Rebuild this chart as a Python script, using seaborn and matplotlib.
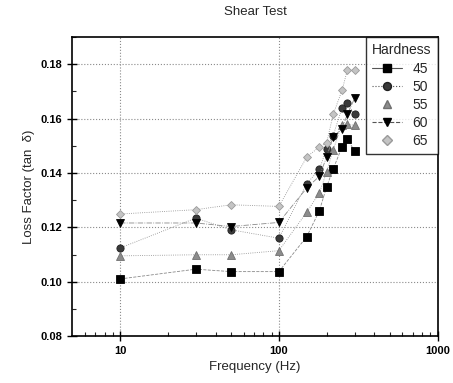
import numpy as np
import pandas as pd
import matplotlib
matplotlib.use("Agg")
import matplotlib.pyplot as plt
from matplotlib.lines import Line2D
from matplotlib.ticker import FixedLocator, NullFormatter, MultipleLocator, FormatStrFormatter
import seaborn as sns

# Frequencies (Hz) at which each compound was tested
freq = [10, 30, 50, 100, 150, 180, 200, 220, 250, 270, 300]

# Loss factor per hardness grade
h45 = [0.1010, 0.1046, 0.1037, 0.1037, 0.1166, 0.1261, 0.1349, 0.1415, 0.1496, 0.1526, 0.1480]
h50 = [0.1124, 0.1234, 0.1191, 0.1160, 0.1361, 0.1413, 0.1490, 0.1538, 0.1640, 0.1656, 0.1616]
h55 = [0.1095, 0.1099, 0.1099, 0.1114, 0.1256, 0.1327, 0.1403, 0.1486, 0.1578, 0.1580, 0.1575]
h60 = [0.1216, 0.1216, 0.1203, 0.1218, 0.1345, 0.1388, 0.1459, 0.1533, 0.1563, 0.1616, 0.1675]
h65 = [0.1249, 0.1265, 0.1283, 0.1277, 0.1459, 0.1496, 0.1511, 0.1616, 0.1704, 0.1778, 0.1778]

hardness = ["45", "50", "55", "60", "65"]
values = [h45, h50, h55, h60, h65]

df = pd.concat(
    [pd.DataFrame({"freq": freq, "loss": v, "hardness": h}) for h, v in zip(hardness, values)],
    ignore_index=True,
)

styles = {
    "45": dict(marker="s", mfc="black", mec="black", ms=5.2, ls="--", leg_ls="-"),
    "50": dict(marker="o", mfc="#3a3a3a", mec="#202020", ms=5.2, ls=":", leg_ls=":"),
    "55": dict(marker="^", mfc="#8c8c8c", mec="#707070", ms=5.2, ls=":", leg_ls="none"),
    "60": dict(marker="v", mfc="black", mec="black", ms=5.8, ls="-.", leg_ls="--"),
    "65": dict(marker="D", mfc="#c4c4c4", mec="#9a9a9a", ms=4.5, ls=":", leg_ls="none"),
}

sns.set_theme(style="white")
plt.rcParams["font.family"] = ["Liberation Sans", "DejaVu Sans"]

fig = plt.figure(figsize=(4.53, 3.83), dpi=100)
ax = fig.add_axes([0.1596, 0.1227, 0.8064, 0.7803])

for h in hardness:
    st = styles[h]
    sub = df[df["hardness"] == h]
    sns.lineplot(
        data=sub, x="freq", y="loss", ax=ax,
        color="#8a8a8a", linewidth=0.6, linestyle=st["ls"],
        marker=st["marker"], markerfacecolor=st["mfc"], markeredgecolor=st["mec"],
        markersize=st["ms"], markeredgewidth=0.6, legend=False,
    )

ax.set_xscale("log")
ax.set_xlim(5, 1000)
ax.set_ylim(0.08, 0.19)

ax.xaxis.set_major_locator(FixedLocator([10, 100, 1000]))
ax.set_xticklabels(["10", "100", "1000"])
ax.xaxis.set_minor_locator(FixedLocator(
    [6, 7, 8, 9, 20, 30, 40, 50, 60, 70, 80, 90, 200, 300, 400, 500, 600, 700, 800, 900]))
ax.xaxis.set_minor_formatter(NullFormatter())
ax.yaxis.set_major_locator(MultipleLocator(0.02))
ax.yaxis.set_minor_locator(MultipleLocator(0.01))
ax.yaxis.set_major_formatter(FormatStrFormatter("%.2f"))

ax.tick_params(which="major", direction="inout", length=7, width=1, colors="black",
               labelsize=8, bottom=True, left=True)
ax.tick_params(which="minor", direction="in", length=3, width=0.8, bottom=True, left=True)
for lbl in ax.get_xticklabels() + ax.get_yticklabels():
    lbl.set_fontweight("bold")

ax.grid(True, which="major", color="#8a8a8a", linestyle=":", linewidth=0.8)
for side in ["left", "bottom", "top", "right"]:
    ax.spines[side].set_color("black")
    ax.spines[side].set_linewidth(1.2)

ax.set_xlabel("Frequency (Hz)", fontsize=9.5)
ax.set_ylabel("Loss Factor (tan  δ)", fontsize=9.5)
ax.set_title("Shear Test", fontsize=9.5, pad=16)

handles = []
for h in hardness:
    st = styles[h]
    handles.append(Line2D([0], [0], color="#555555", linewidth=0.8, linestyle=st["leg_ls"],
                          marker=st["marker"], markerfacecolor=st["mfc"],
                          markeredgecolor=st["mec"], markersize=st["ms"] + 0.5))
leg = ax.legend(handles, hardness, title="Hardness", loc="upper right",
                fontsize=10, title_fontsize=10, frameon=True, fancybox=False,
                edgecolor="black", borderaxespad=0.0, handlelength=2.2,
                handletextpad=0.7, labelspacing=0.3, borderpad=0.45)
leg._legend_box.align = "left"
leg.get_frame().set_linewidth(1.0)

fig.savefig("out.png", dpi=100)
